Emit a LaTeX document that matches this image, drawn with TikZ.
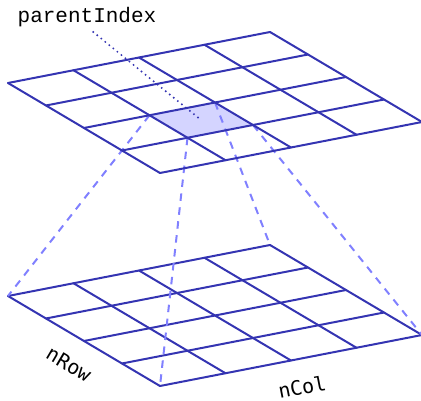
\documentclass[tikz,border=0pt]{standalone}
\usepackage{fontspec}
\newfontfamily\indexfont{Liberation Mono}
\newfontfamily\axisfont{DejaVu Sans Mono}
\usetikzlibrary{calc}
\definecolor{gridBlue}{RGB}{52,52,178}
\definecolor{cellFill}{RGB}{212,212,255}
\definecolor{projBlue}{RGB}{128,128,255}

\begin{document}
\begin{tikzpicture}[
    x=1pt, y=-1pt,
    gridLine/.style={draw=gridBlue, line width=2pt, line cap=round, line join=round},
    cellShade/.style={fill=cellFill},
    projLine/.style={draw=projBlue, line width=2pt, dash pattern=on 7.5pt off 6.5pt},
    pointerLine/.style={draw=gridBlue, line width=2.2pt, dash pattern=on 0pt off 5.2pt, line cap=round},
    indexLabel/.style={font=\indexfont\fontsize{21}{21}\selectfont, text=black, inner sep=0pt},
    axisLabel/.style={font=\axisfont\fontsize{20}{20}\selectfont, text=black, inner sep=0pt}
]
\useasboundingbox (0,0) rectangle (421,401);

% ================= GRID GEOMETRY =================
\coordinate (colStep) at (65.5,-12.75);
\coordinate (rowStep) at (38,22.5);
\coordinate (topO) at (8,83);
\coordinate (botO) at (8,296);

% corners of the bottom grid
\coordinate (botW) at (botO);
\coordinate (botN) at ($(botO)+4*(colStep)$);
\coordinate (botE) at ($(botO)+4*(colStep)+4*(rowStep)$);
\coordinate (botS) at ($(botO)+4*(rowStep)$);

% highlighted parent cell of the top grid
\coordinate (cellW) at ($(topO)+1*(colStep)+2*(rowStep)$);
\coordinate (cellN) at ($(topO)+2*(colStep)+2*(rowStep)$);
\coordinate (cellE) at ($(topO)+2*(colStep)+3*(rowStep)$);
\coordinate (cellS) at ($(topO)+1*(colStep)+3*(rowStep)$);
\coordinate (cellC) at ($(cellW)!0.5!(cellE)$);

% ================= BOTTOM GRID =================
\foreach \k in {0,...,4} {
    \draw[gridLine] ($(botO)+\k*(colStep)$) -- ($(botO)+\k*(colStep)+4*(rowStep)$);
    \draw[gridLine] ($(botO)+\k*(rowStep)$) -- ($(botO)+\k*(rowStep)+4*(colStep)$);
}

% ================= PROJECTION LINES =================
\fill[cellShade] (cellW) -- (cellN) -- (cellE) -- (cellS) -- cycle;
\draw[projLine] (cellW) -- (botW);
\draw[projLine] (cellN) -- (botN);
\draw[projLine] (cellE) -- (botE);
\draw[projLine] (cellS) -- (botS);

% ================= TOP GRID =================
\foreach \k in {0,...,4} {
    \draw[gridLine] ($(topO)+\k*(colStep)$) -- ($(topO)+\k*(colStep)+4*(rowStep)$);
    \draw[gridLine] ($(topO)+\k*(rowStep)$) -- ($(topO)+\k*(rowStep)+4*(colStep)$);
}

% ================= LABELS =================
\node[indexLabel] (parentLabel) at (87,17) {parentIndex};
\draw[pointerLine, shorten <=8pt, shorten >=3pt] (parentLabel.south) -- (cellC);

\node[axisLabel, rotate=-30.6] (rowLabel) at (69,364) {nRow};
\node[axisLabel, rotate=11] (colLabel) at (302,387) {nCol};

\end{tikzpicture}
\end{document}
